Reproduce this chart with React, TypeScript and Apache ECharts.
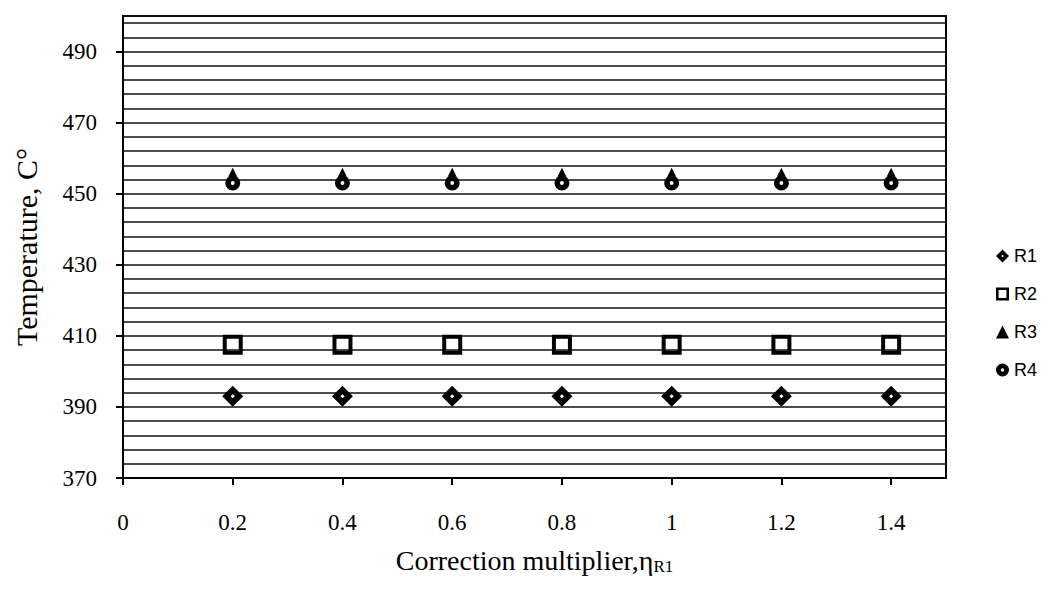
import React, { useEffect, useRef } from 'react';
import * as echarts from 'echarts';

const xValues = [0.2, 0.4, 0.6, 0.8, 1.0, 1.2, 1.4];
const r1 = [393, 393, 393, 393, 393, 393, 393];
const r2 = [407.5, 407.5, 407.5, 407.5, 407.5, 407.5, 407.5];
const r3 = [456, 456, 456, 456, 456, 456, 456];
const r4 = [453, 453, 453, 453, 453, 453, 453];
const seriesNames = ['R1', 'R2', 'R3', 'R4'];
const seriesValues = [r1, r2, r3, r4];

const symbols = [
  'path://M10,0L20,10L10,20L0,10Z M10,8L8,10L10,12L12,10Z',
  'path://M0,0H20V20H0Z M4,4V16H16V4Z',
  'triangle',
  'path://M7,0A7,7,0,1,1,7,14A7,7,0,1,1,7,0Z M7,5.2A1.8,1.8,0,1,0,7,8.8A1.8,1.8,0,1,0,7,5.2Z',
];
const symbolSizes = [21, 20, 9, 15];

const serif = '"Liberation Serif", "Times New Roman", serif';

export default function App() {
  const ref = useRef<HTMLDivElement>(null);
  useEffect(() => {
    if (!ref.current) return;
    const chart = echarts.init(ref.current, null, { renderer: 'svg' });
    chart.setOption({
      animation: false,
      backgroundColor: '#fff',
      grid: {
        left: 123,
        right: 113,
        top: 16,
        bottom: 117,
        show: true,
        borderColor: '#000',
        borderWidth: 2,
        backgroundColor: 'transparent',
      },
      legend: {
        orient: 'vertical',
        left: 991,
        top: 242,
        itemWidth: 13,
        itemHeight: 13,
        itemGap: 20,
        data: seriesNames,
        textStyle: { fontFamily: '"Liberation Sans", Arial, sans-serif', fontSize: 18, color: '#000' },
      },
      xAxis: {
        type: 'value',
        min: 0,
        max: 1.5,
        interval: 0.2,
        name: 'Correction multiplier,η{s|R1}',
        nameLocation: 'middle',
        nameGap: 68,
        nameTextStyle: {
          fontFamily: serif,
          fontSize: 28,
          color: '#000',
          rich: {
            s: { fontFamily: serif, fontSize: 17, color: '#000', padding: [12, 0, 0, 0] },
          },
        },
        axisLine: { lineStyle: { color: '#000', width: 2 } },
        axisTick: { show: true, inside: false, length: 7, lineStyle: { color: '#000', width: 2 } },
        axisLabel: {
          color: '#000',
          fontFamily: serif,
          fontSize: 23,
          margin: 33,
          showMaxLabel: false,
        },
        splitLine: { show: false },
      },
      yAxis: [
        {
          type: 'value',
          min: 370,
          max: 500,
          interval: 20,
          name: 'Temperature, C°',
          nameLocation: 'middle',
          nameGap: 82,
          nameTextStyle: { fontFamily: serif, fontSize: 30, color: '#000' },
          axisLine: { show: true, lineStyle: { color: '#000', width: 2 } },
          axisTick: { show: true, inside: false, length: 7, lineStyle: { color: '#000', width: 2 } },
          axisLabel: {
            color: '#000',
            fontFamily: serif,
            fontSize: 23,
            margin: 26,
            showMaxLabel: false,
          },
          splitLine: { show: false },
        },
        {
          type: 'value',
          min: 370,
          max: 500,
          interval: 4,
          position: 'right',
          axisLine: { show: false },
          axisTick: { show: false },
          axisLabel: { show: false },
          splitLine: { show: true, lineStyle: { color: '#111', width: 1.5 } },
        },
      ],
      series: seriesNames.map((name, i) => ({
        name,
        type: 'scatter',
        yAxisIndex: 0,
        symbol: symbols[i],
        symbolSize: symbolSizes[i],
        itemStyle: { color: '#000', opacity: 1 },
        data: xValues.map((x, j) => [x, seriesValues[i][j]]),
        z: 3 + i,
      })),
    });
    return () => chart.dispose();
  }, []);
  return (
    <div
      ref={ref}
      style={{ position: 'absolute', left: 0, top: 0, width: 1059, height: 595, background: '#fff' }}
    />
  );
}
